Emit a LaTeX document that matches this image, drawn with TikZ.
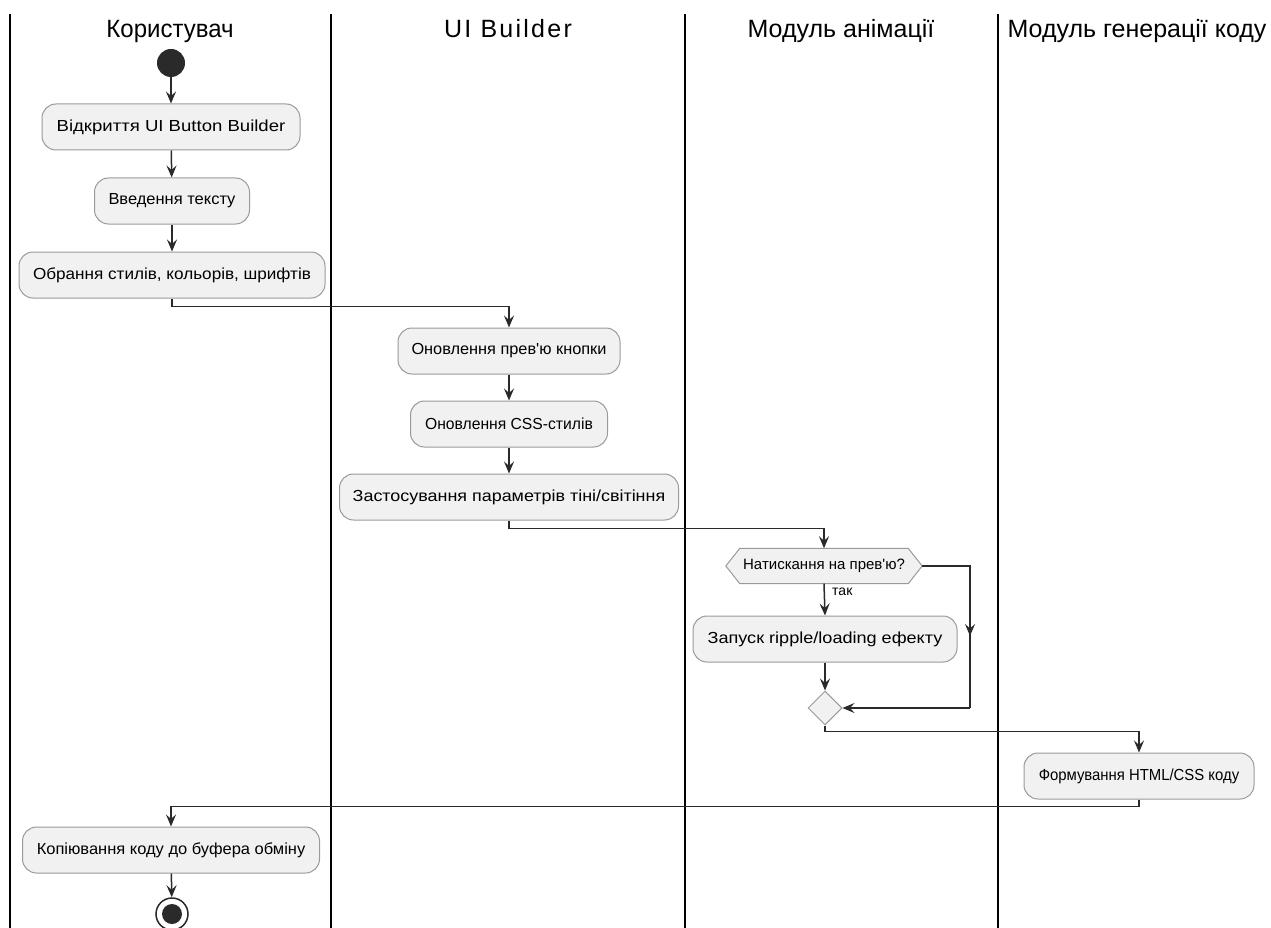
\documentclass[tikz,border=0pt]{standalone}
\usepackage{fontspec}
\setmainfont{Liberation Sans}
\newfontfamily\plainfont{Liberation Sans}
\newfontfamily\hdrspaced[LetterSpace=9]{Liberation Sans}
\usetikzlibrary{arrows.meta,shapes.geometric,calc}
\definecolor{boxfill}{HTML}{F1F1F1}
\definecolor{boxline}{HTML}{9A9A9A}
\definecolor{linecol}{HTML}{2A2A2A}
\newcommand{\sx}[2]{\scalebox{#1}[1]{#2}}
\tikzset{
  lane/.style={line width=2pt, black},
  hdr/.style={font=\fontsize{25}{29}\selectfont, anchor=base, inner sep=0pt},
  act/.style={draw=boxline, fill=boxfill, rounded corners=14pt, line width=1pt,
    minimum height=46pt, inner xsep=0pt, font=\fontsize{16}{19}\selectfont},
  flow/.style={draw=linecol, line width=1.5pt, -{Stealth[length=12pt,width=10pt,inset=4.5pt]}},
  plain/.style={draw=linecol, line width=1.5pt},
  merge/.style={diamond, draw=boxline, fill=boxfill, line width=1pt, inner sep=0pt,
    minimum width=34pt, minimum height=34pt},
}
\begin{document}
\begin{tikzpicture}[x=1pt,y=-1pt]
\useasboundingbox[fill=white] (0,0) rectangle (1271,928);
% lanes
\draw[lane] (10,14) -- (10,928);
\draw[lane] (331,14) -- (331,928);
\draw[lane] (685,14) -- (685,928);
\draw[lane] (998,14) -- (998,928);
% headers
\node[hdr] (h1) at (170,38) {\sx{0.96}{Користувач}};
\node[hdr] (h2) at (508,38) {\hdrspaced UI Builder};
\node[hdr] (h3) at (841,38) {Модуль анімації};
\node[hdr] (h4) at (1137,38) {Модуль генерації коду};
% nodes
\node[circle, fill=linecol, minimum size=28pt, inner sep=0pt] (start) at (171,63) {};
\node[act, minimum width=258pt] (a1) at (171,127) {\sx{1.16}{Відкриття UI Button Builder}};
\node[act, minimum width=155pt] (a2) at (172,201) {\sx{1.03}{Введення тексту}};
\node[act, minimum width=306pt] (a3) at (172,275) {\sx{1.07}{Обрання стилів, кольорів, шрифтів}};
\node[act, minimum width=222pt] (a4) at (509,351) {\sx{1.02}{\plainfont Оновлення прев'ю кнопки}};
\node[act, minimum width=197pt] (a5) at (509,424) {\sx{0.98}{Оновлення CSS-стилів}};
\node[act, minimum width=339pt] (a6) at (509,497) {\sx{1.12}{Застосування параметрів тіні/світіння}};
\node[minimum width=196pt, minimum height=35pt, inner sep=0pt] (dec) at (824,566) {};
\draw[draw=boxline, fill=boxfill, line width=1pt]
  (dec.west) -- ($(dec.north west)+(14,0)$) -- ($(dec.north east)+(-14,0)$) -- (dec.east)
  -- ($(dec.south east)+(-14,0)$) -- ($(dec.south west)+(14,0)$) -- cycle;
\node[font=\fontsize{15}{18}\selectfont] (dectext) at (dec) {\plainfont Натискання на прев'ю?};
\node[font=\fontsize{14}{17}\selectfont, anchor=west, inner sep=0pt] (yes) at (832,592) {так};
\node[act, minimum width=264pt] (a7) at (825,639) {\sx{1.13}{Запуск ripple/loading ефекту}};
\node[merge] (m) at (825,708) {};
\node[act, minimum width=230pt] (a8) at (1139,776) {\sx{0.93}{Формування HTML/CSS коду}};
\node[act, minimum width=297pt] (a9) at (171,850) {\sx{1.03}{Копіювання коду до буфера обміну}};
\node[circle, draw=linecol, line width=1.5pt, fill=white, minimum size=32pt, inner sep=0pt] (stop) at (172,914) {};
\node[circle, fill=linecol, minimum size=20pt, inner sep=0pt] (stopin) at (stop) {};
% coordinates
\coordinate (rb) at (970,566);
\coordinate (rbmid) at (970,636);
\coordinate (rb2) at (970,708);
% connectors
\draw[flow] (start) -- (a1);
\draw[flow] (a1) -- (a2);
\draw[flow] (a2) -- (a3);
\draw[flow] (a3.south) -- ++(0,8) -| (a4.north);
\draw[flow] (a4) -- (a5);
\draw[flow] (a5) -- (a6);
\draw[flow] (a6.south) -- ++(0,8) -| (dec.north);
\draw[flow] (dec.south) -- (a7.north);
\draw[flow] (a7.south) -- (m.north);
\draw[plain] (dec.east) -- (rb) -- (rb2);
\draw[flow] (rb) -- (rbmid);
\draw[flow] (rb2) -- (m.east);
\draw[flow] (m.south) -- ++(0,6) -| (a8.north);
\draw[flow] (a8.south) -- ++(0,7) -| (a9.north);
\draw[flow] (a9) -- (stop);
\end{tikzpicture}
\end{document}
